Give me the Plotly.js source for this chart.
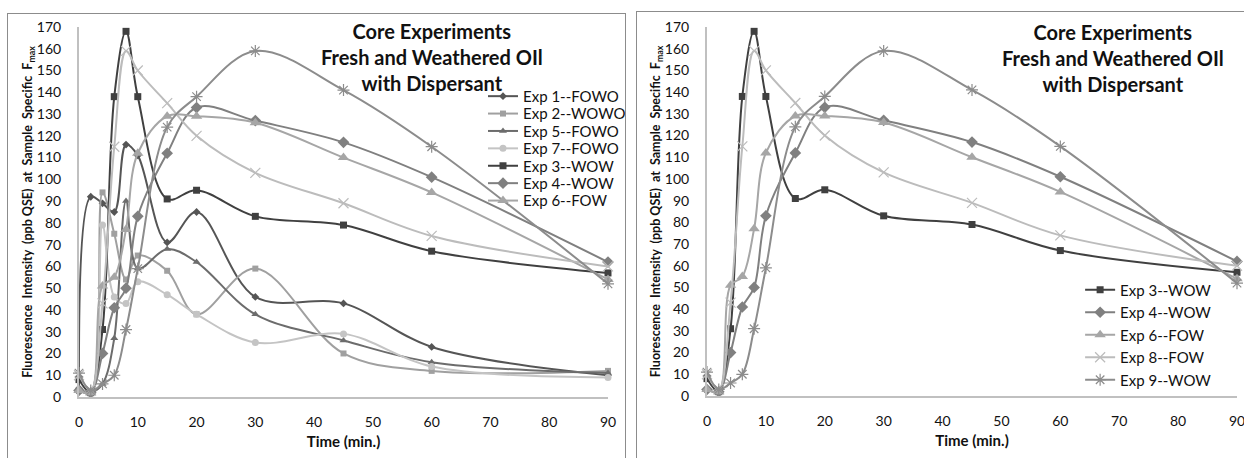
<!DOCTYPE html>
<html><head><meta charset="utf-8">
<script src="https://cdn.plot.ly/plotly-3.0.1.min.js"></script>
<style>
html,body{margin:0;padding:0;background:#fff;overflow:hidden;width:1244px;height:458px;}
.frame{position:absolute;border:1px solid #8c8c8c;overflow:hidden;background:#fff;}
</style></head><body>
<div class="frame" style="left:7px;top:13px;width:617px;height:470px;"><div id="left" style="width:680px;height:470px;"></div></div>
<div class="frame" style="left:636px;top:11px;width:640px;height:470px;"><div id="right" style="width:640px;height:470px;"></div></div>
<script>
// ---- data ----
const times = [0, 2, 4, 6, 8, 10, 15, 20, 30, 45, 60, 90];
const exp1 = [4, 92, 89, 85, 116, 111, 71, 85, 46, 43, 23, 10];
const exp2 = [3, 2, 94, 75, 54, 65, 58, 38, 59, 20, 12, 12];
const exp5 = [3, 2, 6, 27, 90, 59, 68, 62, 38, 26, 16, 11];
const exp7 = [3, 2, 79, 46, 43, 53, 47, 38, 25, 29, 14, 9];
const exp3 = [8, 2, 31, 138, 168, 138, 91, 95, 83, 79, 67, 57];
const exp4 = [3, 2, 20, 41, 50, 83, 112, 133, 127, 117, 101, 62];
const exp6 = [3, 2, 51, 55, 77, 112, 129, 129, 126, 110, 94, 54];
const exp8 = [10, 3, 43, 115, 159, 150, 135, 120, 103, 89, 74, 60];
const exp9 = [11, 3, 6, 10, 31, 59, 124, 138, 159, 141, 115, 52];
const yTicks = [0,10,20,30,40,50,60,70,80,90,100,110,120,130,140,150,160,170];
const xTicks = [0,10,20,30,40,50,60,70,80,90];
const chartTitle = "Core Experiments<br>Fresh and Weathered OIl<br>with Dispersant";
const xTitle = "Time (min.)";
const yTitle = "Fluorescence  Intensity  (ppb QSE)  at  Sample  Specific  F<sub>max</sub>";

const FONT = "Lato, 'Open Sans', sans-serif";

const styles = {
  "Exp 1--FOWO": {c:"#555555", s:"diamond", z:6, y:exp1},
  "Exp 2--WOWO": {c:"#a0a0a0", s:"square", z:6, y:exp2},
  "Exp 5--FOWO": {c:"#6c6c6c", s:"triangle-up", z:7, y:exp5},
  "Exp 7--FOWO": {c:"#c4c4c4", s:"circle", z:7, y:exp7},
  "Exp 3--WOW":  {c:"#404040", s:"square", z:7, y:exp3},
  "Exp 4--WOW":  {c:"#808080", s:"diamond", z:9, y:exp4},
  "Exp 6--FOW":  {c:"#a6a6a6", s:"triangle-up", z:10, y:exp6},
  "Exp 8--FOW":  {c:"#bcbcbc", s:"x-thin-open", z:10, y:exp8},
  "Exp 9--WOW":  {c:"#8c8c8c", s:"asterisk-open", z:10, y:exp9}
};

function trace(name, show){
  const st = styles[name];
  const open = st.s.indexOf("open") >= 0;
  return {
    x: times, y: st.y, name: name, type: "scatter", mode: "lines+markers",
    line: {color: st.c, width: 2, shape: "spline", smoothing: 1},
    marker: {symbol: st.s, size: st.z, color: st.c, line: {color: st.c, width: open ? 1.2 : 0}},
    cliponaxis: false, showlegend: show
  };
}

function axisCommon(){
  return {
    showgrid: false, zeroline: false, showline: true, linecolor: "#c0c0c0", linewidth: 2,
    ticks: "", tickfont: {family: FONT, size: 14, color: "#111"}, fixedrange: true, automargin: false
  };
}

function layout(opts){
  return {
    width: opts.w, height: 470,
    margin: opts.m,
    paper_bgcolor: "#fff", plot_bgcolor: "#fff",
    font: {family: FONT, color: "#111"},
    xaxis: Object.assign(axisCommon(), {range: [0, 90], tickvals: xTicks, ticklabelstandoff: 11,
      title: {text: "<b>" + xTitle + "</b>", font: {family: FONT, size: 15, color: "#111"}, standoff: 8}}),
    yaxis: Object.assign(axisCommon(), {range: [0, 170], tickvals: yTicks, ticklabelstandoff: 13,
      title: {text: "<b>" + yTitle + "</b>", font: {family: FONT, size: 12.5, color: "#111"}, standoff: 1}}),
    showlegend: true,
    legend: Object.assign({bgcolor: "rgba(0,0,0,0)", borderwidth: 0, font: {family: FONT, size: 15, color: "#111"},
      xanchor: "left", yanchor: "top", traceorder: "normal", tracegroupgap: 0}, opts.legend),
    annotations: [{
      text: "<b>" + chartTitle + "</b>", xref: "paper", yref: "paper", x: opts.tx, y: opts.ty,
      xanchor: "center", yanchor: "middle", showarrow: false, align: "center",
      font: {family: FONT, size: 20, color: "#111"}
    }]
  };
}

const leftNames = ["Exp 1--FOWO","Exp 2--WOWO","Exp 5--FOWO","Exp 7--FOWO","Exp 3--WOW","Exp 4--WOW","Exp 6--FOW","Exp 8--FOW","Exp 9--WOW"];
const leftLegend = ["Exp 1--FOWO","Exp 2--WOWO","Exp 5--FOWO","Exp 7--FOWO","Exp 3--WOW","Exp 4--WOW","Exp 6--FOW"];
const rightNames = ["Exp 3--WOW","Exp 4--WOW","Exp 6--FOW","Exp 8--FOW","Exp 9--WOW"];

// tighten row spacing of a drawn legend (Excel-style compact rows)
function compactLegend(gd, spacing){
  const items = gd.querySelectorAll(".legend .traces");
  if (!items.length) return;
  const m = /translate\(\s*([-\d.]+)[ ,]+([-\d.]+)\s*\)/.exec(items[0].getAttribute("transform") || "");
  if (!m) return;
  const x0 = parseFloat(m[1]), y0 = parseFloat(m[2]);
  items.forEach((el, i) => el.setAttribute("transform", "translate(" + x0 + "," + (y0 + i * spacing) + ")"));
}

Plotly.newPlot("left", leftNames.map(n => trace(n, leftLegend.indexOf(n) >= 0)),
  layout({w: 680, m: {l: 71, r: 80, t: 13, b: 87, pad: 0}, tx: 0.6667, ty: 0.919,
    legend: {x: 0.7637, y: 0.857}}),
  {staticPlot: true, displayModeBar: false}).then(gd => compactLegend(gd, 17.4));

Plotly.newPlot("right", rightNames.map(n => trace(n, true)),
  layout({w: 640, m: {l: 70, r: 40, t: 15, b: 86, pad: 0}, tx: 0.766, ty: 0.915,
    legend: {x: 0.704, y: 0.332}}),
  {staticPlot: true, displayModeBar: false});
</script>
</body></html>
